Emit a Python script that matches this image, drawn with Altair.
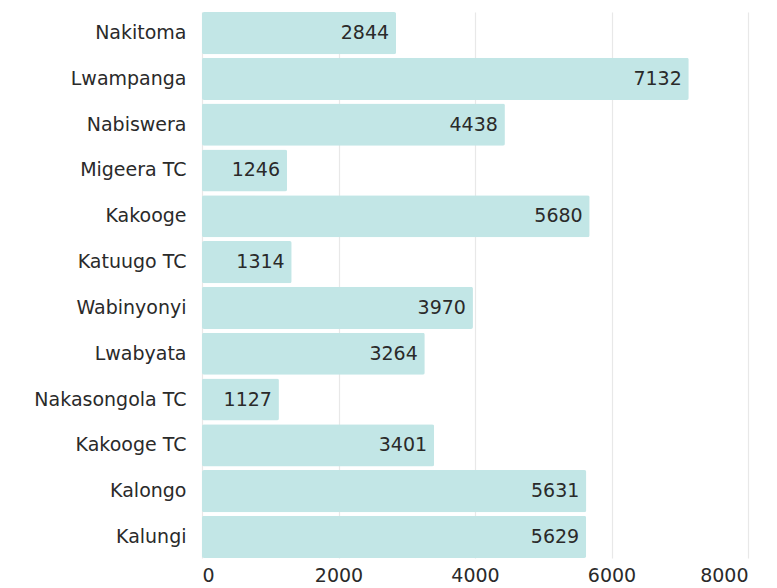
import altair as alt
import pandas as pd

places = ["Nakitoma", "Lwampanga", "Nabiswera", "Migeera TC", "Kakooge",
          "Katuugo TC", "Wabinyonyi", "Lwabyata", "Nakasongola TC",
          "Kakooge TC", "Kalongo", "Kalungi"]
values = [2844, 7132, 4438, 1246, 5680, 1314, 3970, 3264, 1127, 3401, 5631, 5629]

df = pd.DataFrame({"place": places, "value": values})

FONT = "DejaVu Sans"
FS = 19

y = alt.Y("place:N", sort=places, title=None,
          scale=alt.Scale(paddingInner=0.08, paddingOuter=0.0),
          axis=alt.Axis(labelFontSize=FS, labelColor="#2a2a2a", labelPadding=16,
                        ticks=False, domain=False, grid=False, labelFont=FONT))
x = alt.X("value:Q", title=None,
          scale=alt.Scale(domain=[0, 8000]),
          axis=alt.Axis(values=[0, 2000, 4000, 6000, 8000], labelFontSize=FS,
                        labelColor="#2a2a2a", ticks=False, domain=False,
                        gridColor="#e8e8e8", gridWidth=1.2, labelPadding=8,
                        labelFont=FONT, format="d"))

bars = alt.Chart(df).mark_bar(color="#c2e6e6", cornerRadius=2).encode(x=x, y=y)
text = alt.Chart(df).mark_text(align="right", baseline="middle", dx=-7,
                               fontSize=FS, color="#2a2a2a", font=FONT).encode(
    x="value:Q", y=alt.Y("place:N", sort=places), text="value:Q")

chart = (bars + text).properties(
    width=546, height=546,
    padding={"left": 25, "top": 4, "right": 5, "bottom": 0},
).configure_view(strokeWidth=0)

chart.save("out.html", embed_options={"renderer": "svg", "actions": False})
